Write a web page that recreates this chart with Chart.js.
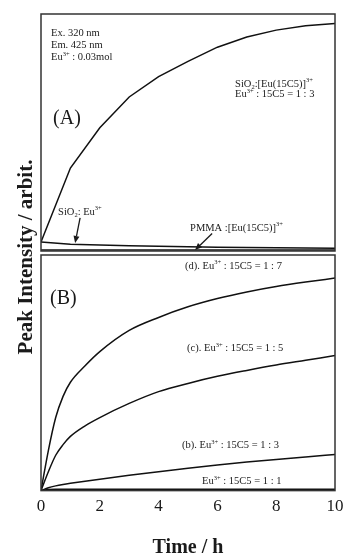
<!DOCTYPE html>
<html>
<head>
<meta charset="utf-8">
<script src="https://cdn.jsdelivr.net/npm/chart.js@4.4.0/dist/chart.umd.min.js"></script>
<style>
  html, body { margin: 0; padding: 0; background: #fff; }
  body { width: 345px; height: 554px; position: relative; overflow: hidden; }
  canvas { position: absolute; left: 0; }
  #chartA { top: 0; }
  #chartB { top: 253px; }
  #ytitle {
    position: absolute; left: -126px; top: 246px; width: 300px; height: 22px;
    line-height: 22px; text-align: center; transform: rotate(-90deg);
    font: bold 21px 'Liberation Serif', 'Times New Roman', serif; color: #1a1a1a;
  }
</style>
</head>
<body>
<canvas id="chartA" width="345" height="253"></canvas>
<canvas id="chartB" width="345" height="301"></canvas>
<div id="ytitle">Peak Intensity / arbit.</div>
<script>
// panel (A): time in hours, intensity in arbitrary units (0-100)
const timeA = [0, 1, 2, 3, 4, 5, 6, 7, 8, 9, 10];
const sio2Crown = [3.8, 35, 52, 65, 73.6, 80, 86, 90.3, 93.2, 95, 96];
const sio2Eu = [3.8, 2.9, 2.5, 2.2, 2.0, 1.8, 1.6, 1.5, 1.4, 1.3, 1.2];
const pmmaCrown = [0.4, 0.4, 0.4, 0.4, 0.4, 0.4, 0.4, 0.4, 0.4, 0.4, 0.4];

// panel (B): Eu3+ : 15C5 ratio series
const timeB = [0, 0.25, 0.5, 0.75, 1, 1.5, 2, 3, 4, 5, 6, 7, 8, 9, 10];
const ratio17 = [0, 17, 31, 40, 46, 53, 59, 68, 73.5, 78, 81.5, 84.3, 86.6, 88.5, 90.2];
const ratio15 = [0, 8, 15, 19.5, 23, 27.5, 31, 37, 42, 45.5, 48.5, 51, 53.3, 55.3, 57.3];
const ratio13 = [0, 1.2, 2.0, 2.6, 3.1, 4.0, 4.85, 6.5, 8.05, 9.5, 10.85, 12.1, 13.25, 14.3, 15.3];
const ratio11 = [0, 0.5, 0.6, 0.6, 0.6, 0.6, 0.6, 0.6, 0.6, 0.6, 0.6, 0.6, 0.6, 0.6, 0.6];

const xTicks = [0, 2, 4, 6, 8, 10];

const SERIF = "'Liberation Serif', 'Times New Roman', serif";
const INK = '#1a1a1a';

// text notes, placed in data coordinates (t, value), left aligned on baseline
const notesA = [
  { t: 0.34, v: 90.9, text: 'Ex. 320 nm', size: 10.5 },
  { t: 0.34, v: 85.6, text: 'Em. 425 nm', size: 10.5 },
  { t: 0.34, v: 80.4, text: 'Eu^{3+} : 0.03mol', size: 10.5 },
  { t: 0.41, v: 53.4, text: '(A)', size: 20 },
  { t: 6.6, v: 69.4, text: 'SiO_{2}:[Eu(15C5)]^{3+}', size: 10.5 },
  { t: 6.6, v: 65.0, text: 'Eu^{3+} : 15C5 = 1 : 3', size: 10.5 },
  { t: 0.58, v: 15.4, text: 'SiO_{2}: Eu^{3+}', size: 10.5 },
  { t: 5.07, v: 8.6, text: 'PMMA :[Eu(15C5)]^{3+}', size: 10.5 }
];
const arrowsA = [
  { from: [1.33, 14.0], to: [1.16, 3.4] },
  { from: [5.82, 7.4], to: [5.24, 0.4] }
];
const notesB = [
  { t: 4.9, v: 94.2, text: '(d). Eu^{3+} : 15C5 = 1 : 7', size: 10.5 },
  { t: 0.31, v: 79.3, text: '(B)', size: 20 },
  { t: 4.97, v: 59.2, text: '(c). Eu^{3+} : 15C5 = 1 : 5', size: 10.5 },
  { t: 4.8, v: 18.2, text: '(b). Eu^{3+} : 15C5 = 1 : 3', size: 10.5 },
  { t: 5.48, v: 2.8, text: 'Eu^{3+} : 15C5 = 1 : 1', size: 10.5 }
];

function toPoints(xs, ys) {
  return xs.map((x, i) => ({ x: x, y: ys[i] }));
}

// split "SiO_{2}:[..]^{3+}" into normal / sub / sup pieces
function parseRich(str) {
  const parts = [];
  const re = /([_^])\{([^}]*)\}/g;
  let last = 0, m;
  while ((m = re.exec(str)) !== null) {
    if (m.index > last) parts.push({ s: str.slice(last, m.index), k: 'n' });
    parts.push({ s: m[2], k: m[1] === '_' ? 'sub' : 'sup' });
    last = re.lastIndex;
  }
  if (last < str.length) parts.push({ s: str.slice(last), k: 'n' });
  return parts;
}

function drawRich(ctx, x, y, str, size) {
  let cx = x;
  parseRich(str).forEach(p => {
    const small = p.k !== 'n';
    const fs = small ? size * 0.62 : size;
    ctx.font = fs + 'px ' + SERIF;
    const dy = p.k === 'sub' ? size * 0.22 : p.k === 'sup' ? -size * 0.4 : 0;
    ctx.fillText(p.s, cx, y + dy);
    cx += ctx.measureText(p.s).width;
  });
}

const framePlugin = {
  id: 'frame',
  afterDatasetsDraw(chart) {
    const { ctx, chartArea: a } = chart;
    ctx.save();
    ctx.strokeStyle = '#333';
    ctx.lineWidth = 1.5;
    ctx.strokeRect(a.left, a.top, a.right - a.left, a.bottom - a.top);
    ctx.restore();
  }
};

function notesPlugin(notes, arrows) {
  return {
    id: 'notes',
    afterDraw(chart) {
      const { ctx, scales: { x, y } } = chart;
      ctx.save();
      ctx.fillStyle = INK;
      ctx.textBaseline = 'alphabetic';
      ctx.textAlign = 'left';
      notes.forEach(n => {
        drawRich(ctx, x.getPixelForValue(n.t), y.getPixelForValue(n.v), n.text, n.size);
      });
      ctx.strokeStyle = INK;
      ctx.lineWidth = 1.3;
      arrows.forEach(ar => {
        const x0 = x.getPixelForValue(ar.from[0]), y0 = y.getPixelForValue(ar.from[1]);
        const x1 = x.getPixelForValue(ar.to[0]), y1 = y.getPixelForValue(ar.to[1]);
        const ang = Math.atan2(y1 - y0, x1 - x0);
        const hl = 7, hw = 3;
        const bx = x1 - hl * Math.cos(ang), by = y1 - hl * Math.sin(ang);
        ctx.beginPath();
        ctx.moveTo(x0, y0);
        ctx.lineTo(bx, by);
        ctx.stroke();
        ctx.beginPath();
        ctx.moveTo(x1, y1);
        ctx.lineTo(bx + hw * Math.sin(ang), by - hw * Math.cos(ang));
        ctx.lineTo(bx - hw * Math.sin(ang), by + hw * Math.cos(ang));
        ctx.closePath();
        ctx.fill();
      });
      ctx.restore();
    }
  };
}

function lineSet(xs, ys, tension) {
  return {
    data: toPoints(xs, ys),
    borderColor: '#111',
    borderWidth: 1.5,
    pointRadius: 0,
    tension: tension,
    cubicInterpolationMode: tension ? 'monotone' : 'default',
    fill: false
  };
}

const common = {
  responsive: false,
  animation: false,
  devicePixelRatio: 1,
  plugins: { legend: { display: false }, tooltip: { enabled: false } }
};

new Chart(document.getElementById('chartA').getContext('2d'), {
  type: 'line',
  data: {
    datasets: [
      lineSet(timeA, sio2Crown, 0),
      lineSet(timeA, sio2Eu, 0),
      lineSet(timeA, pmmaCrown, 0)
    ]
  },
  options: {
    ...common,
    layout: { padding: { left: 41, right: 10, top: 14, bottom: 2 } },
    scales: {
      x: { type: 'linear', min: 0, max: 10, display: false },
      y: { min: 0, max: 100, display: false }
    }
  },
  plugins: [framePlugin, notesPlugin(notesA, arrowsA)]
});

new Chart(document.getElementById('chartB').getContext('2d'), {
  type: 'line',
  data: {
    datasets: [
      lineSet(timeB, ratio17, 0.4),
      lineSet(timeB, ratio15, 0.4),
      lineSet(timeB, ratio13, 0.4),
      lineSet(timeB, ratio11, 0.4)
    ]
  },
  options: {
    ...common,
    layout: { padding: { left: 41, right: 10, top: 2, bottom: 0 } },
    scales: {
      x: {
        type: 'linear', min: 0, max: 10,
        afterBuildTicks: s => { s.ticks = xTicks.map(v => ({ value: v })); },
        // labels may overhang the frame, as in the original figure
        afterFit: s => { s.paddingLeft = 0; s.paddingRight = 0; },
        grid: { display: false, drawTicks: false },
        border: { display: false },
        ticks: { padding: 6, color: INK, font: { family: SERIF, size: 17 } },
        title: {
          display: true, text: 'Time / h', color: INK,
          font: { family: SERIF, size: 20, weight: 'bold', lineHeight: 0.6 },
          padding: { top: 19, bottom: 0 }
        }
      },
      y: { min: 0, max: 100, display: false }
    }
  },
  plugins: [framePlugin, notesPlugin(notesB, [])]
});
</script>
</body>
</html>
